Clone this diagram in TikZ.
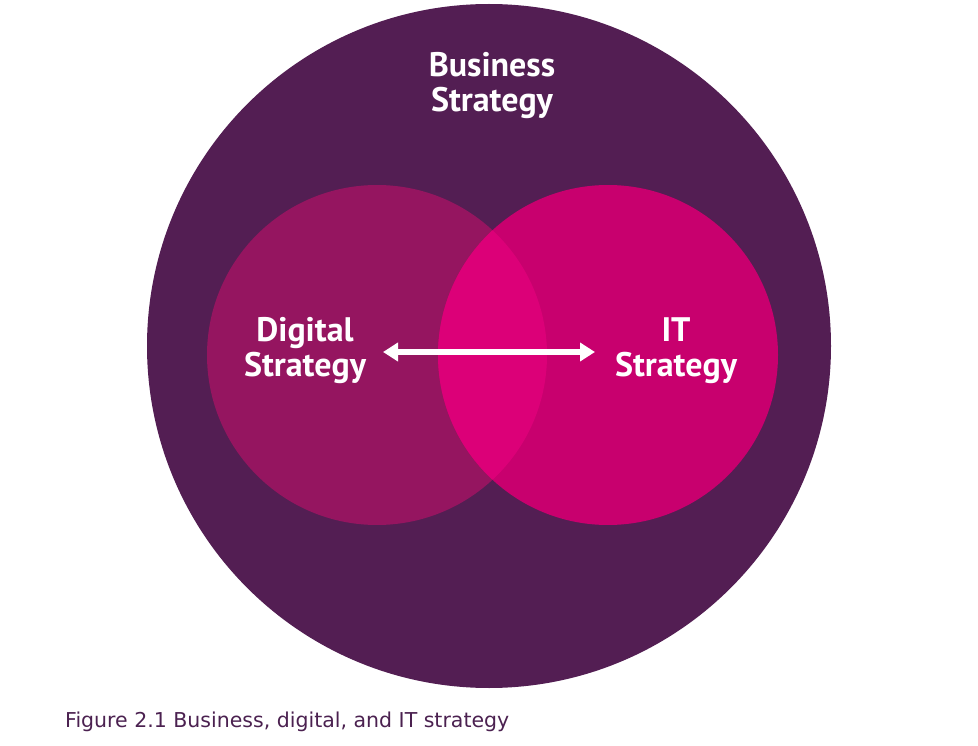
\documentclass[tikz,border=0pt]{standalone}
\usepackage{fontspec}
\setmainfont{PT Sans}
\newfontfamily\capfont{DejaVu Sans}
\usetikzlibrary{arrows.meta}
\definecolor{bizpurple}{RGB}{83,30,83}
\definecolor{digplum}{RGB}{149,21,96}
\definecolor{itpink}{RGB}{200,0,110}
\definecolor{lenspink}{RGB}{220,0,120}
\definecolor{capcolor}{RGB}{75,33,80}
\tikzset{
  label/.style={text=white, font=\fontsize{34}{35}\selectfont\bfseries, align=center},
}
\begin{document}
\begin{tikzpicture}[x=1pt,y=-1pt] %%Strategy circles
\useasboundingbox (0,0) rectangle (978,746);
\coordinate (B) at (489,346);
\coordinate (D) at (377,355);
\coordinate (I) at (608,355);
\fill[bizpurple] (B) circle (342);
\fill[digplum] (D) circle (170);
\fill[itpink] (I) circle (170);
\begin{scope}
\clip (D) circle (170);
\fill[lenspink] (I) circle (170);
\end{scope}
\node[label] (biz) at (492,86) {Business\\Strategy};
\node[label] (dig) at (305,351) {Digital\\Strategy};
\node[label] (it) at (676,351) {IT\\Strategy};
\coordinate (al) at (383,352);
\coordinate (ar) at (595,352);
\draw[white, line width=5.5pt, {Triangle[length=15pt,width=18pt]}-{Triangle[length=15pt,width=18pt]}] (al)--(ar);
\node[anchor=west, text=capcolor, font=\capfont\fontsize{20.5}{24}\selectfont, inner sep=0pt] (cap) at (65,722) {Figure 2.1 Business, digital, and IT strategy};
\end{tikzpicture}
\end{document}
